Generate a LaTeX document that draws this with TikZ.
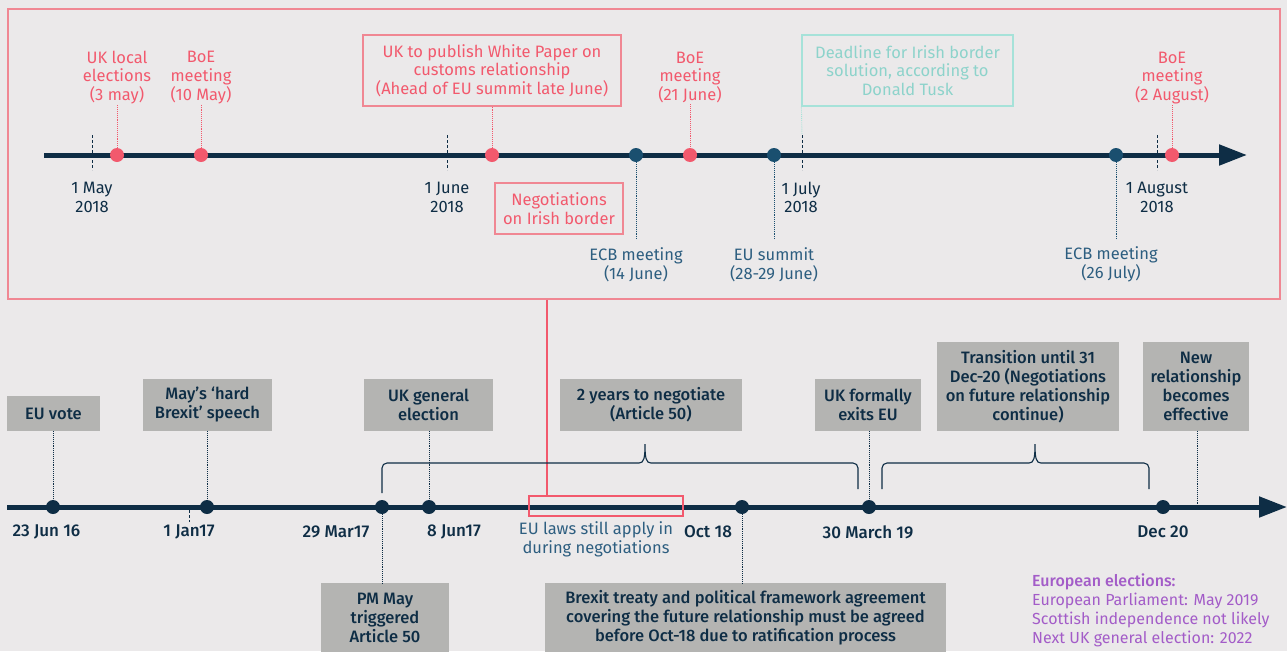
\documentclass[tikz,border=0pt]{standalone}
\usepackage{fontspec}
\setmainfont{Fira Sans}
\newfontfamily\fmed{Fira Sans Medium}
\usetikzlibrary{arrows.meta}
\definecolor{bgc}{HTML}{EBE9EA}
\definecolor{navy}{HTML}{0E2D45}
\definecolor{bluec}{HTML}{1A4F6F}
\definecolor{bluet}{HTML}{2D5E80}
\definecolor{pinkc}{HTML}{F2596D}
\definecolor{pinkb}{HTML}{F08793}
\definecolor{tealc}{HTML}{A6E2D9}
\definecolor{grayb}{HTML}{B4B4B2}
\definecolor{purp}{HTML}{A35CC8}
\tikzset{
  fs/.style={font=\fontsize{16.5}{18.6}\selectfont},
  rdot/.style={circle,fill=pinkc,minimum size=14pt,inner sep=0},
  bdot/.style={circle,fill=bluec,minimum size=14pt,inner sep=0},
  ndot/.style={circle,fill=navy,minimum size=14pt,inner sep=0},
  rlab/.style={fs,text=pinkc,align=center,inner sep=1pt},
  blab/.style={fs,text=bluet,align=center,inner sep=1pt},
  dlab/.style={fs,text=navy,align=center,inner sep=1pt},
  ndate/.style={font=\fmed\fontsize{17}{18.6}\selectfont,text=navy,align=center,inner sep=1pt},
  rbox/.style={fs,draw=pinkb,line width=1.2pt,text=pinkc,align=center,inner sep=0},
  tbox/.style={fs,draw=tealc,line width=1.2pt,text=tealc!85!teal,align=center,inner sep=0},
  gbox/.style={font=\fmed\fontsize{16.5}{19}\selectfont,fill=grayb,text=navy,align=center,inner sep=0},
  rdots/.style={pinkc,densely dotted,line width=0.9pt},
  bdots/.style={bluec,densely dotted,line width=0.9pt},
  ndots/.style={navy,densely dotted,line width=0.9pt},
  tdots/.style={tealc,densely dotted,line width=0.9pt},
  tickl/.style={navy,densely dashed,line width=0.8pt},
  tline/.style={navy,line width=5pt,-{Triangle[length=28pt,width=20pt]}},
  brace/.style={navy,line width=1.1pt},
}
\begin{document}
\begin{tikzpicture}[x=1pt,y=-1pt]
\fill[bgc] (0,0) rectangle (1287,651);
\useasboundingbox (0,0) rectangle (1287,651);

% ---------- top panel ----------
\node[draw=pinkb,line width=1.3pt,minimum width=1272pt,minimum height=290pt,inner sep=0] (panel) at (644,154) {};

\coordinate (ts) at (44,155);
\coordinate (te) at (1247,155);
\draw[tline] (ts) -- (te);

% ticks
\coordinate (tk1a) at (92,135); \coordinate (tk1b) at (92,170);
\coordinate (tk2a) at (447,135); \coordinate (tk2b) at (447,170);
\coordinate (tk3a) at (802,135); \coordinate (tk3b) at (802,170);
\coordinate (tk4a) at (1157,135); \coordinate (tk4b) at (1157,170);
\draw[tickl] (tk1a) -- (tk1b);
\draw[tickl] (tk2a) -- (tk2b);
\draw[tickl] (tk3a) -- (tk3b);
\draw[tickl] (tk4a) -- (tk4b);

% dots
\node[rdot] (r1) at (117,155) {};
\node[rdot] (r2) at (201,155) {};
\node[rdot] (r3) at (492,155) {};
\node[rdot] (r4) at (690,155) {};
\node[rdot] (r5) at (1172,155) {};
\node[bdot] (b1) at (636,155) {};
\node[bdot] (b2) at (774,155) {};
\node[bdot] (b3) at (1116,155) {};

% pink labels
\node[rlab] (lr1) at (117,77.5) {UK local\\elections\\(3 may)};
\node[rlab] (lr2) at (201,77.5) {BoE\\meeting\\(10 May)};
\node[rlab] (lr4) at (690,77.5) {BoE\\meeting\\(21 June)};
\node[rlab] (lr5) at (1172,78) {BoE\\meeting\\(2 August)};
\node[rbox,minimum width=258pt,minimum height=71pt] (wp) at (492,70.5) {UK to publish White Paper on\\customs relationship\\(Ahead of EU summit late June)};
\node[tbox,minimum width=211pt,minimum height=71pt] (dl) at (907.5,70.5) {Deadline for Irish border\\solution, according to\\Donald Tusk};
\node[rbox,minimum width=128pt,minimum height=51pt] (neg) at (559,208.5) {Negotiations\\on Irish border};

\draw[rdots] (lr1.south) -- (r1.north);
\draw[rdots] (lr2.south) -- (r2.north);
\draw[rdots] (lr4.south) -- (r4.north);
\draw[rdots] (lr5.south) -- (r5.north);
\draw[rdots] (wp.south) -- (r3.north);
\draw[tdots] (dl.south west) -- (tk3a);

% blue labels
\node[blab] (lb1) at (636,264.5) {ECB meeting\\(14 June)};
\node[blab] (lb2) at (774,264.5) {EU summit\\(28-29 June)};
\node[blab] (lb3) at (1111,264.5) {ECB meeting\\(26 July)};
\coordinate (eb1) at (636,240);
\coordinate (eb2) at (774,240);
\coordinate (eb3) at (1116,240);
\draw[bdots] (b1.south) -- (eb1);
\draw[bdots] (b2.south) -- (eb2);
\draw[bdots] (b3.south) -- (eb3);

% date labels
\node[dlab] at (92,197.5) {1 May\\2018};
\node[dlab] at (447,197.5) {1 June\\2018};
\node[dlab] at (801,197.5) {1 July\\2018};
\node[dlab] at (1157,197.5) {1 August\\2018};

% ---------- bottom timeline ----------
\coordinate (bs) at (7,507);
\coordinate (be) at (1287,507);
\draw[tline] (bs) -- (be);

\node[draw=pinkc,line width=1.2pt,minimum width=154pt,minimum height=20pt,inner sep=0] (lawbox) at (606,506) {};
\coordinate (lx) at (547,0);
\draw[pinkc,line width=1.2pt] (panel.south -| lx) -- (lawbox.north -| lx);

\coordinate (jt1) at (189,510); \coordinate (jt2) at (189,522);
\draw[tickl] (jt1) -- (jt2);

\node[ndot] (n1) at (53,507) {};
\node[ndot] (n2) at (207,507) {};
\node[ndot] (n3) at (382,507) {};
\node[ndot] (n4) at (429,507) {};
\node[ndot] (n5) at (742,507) {};
\node[ndot] (n6) at (869,507) {};
\node[ndot] (n7) at (1163,507) {};
\coordinate (nr) at (1197,504);

% dates
\node[ndate] at (46.5,532) {23 Jun 16};
\node[ndate] at (189,532) {1 Jan17};
\node[ndate] at (336,532) {29 Mar17};
\node[ndate] at (454,532) {8 Jun17};
\node[ndate] at (708,532) {Oct 18};
\node[ndate] at (868,532) {30 March 19};
\node[ndate] at (1163,532) {Dec 20};
\node[blab] at (596,539.5) {EU laws still apply in\\during negotiations};

% gray boxes above
\node[gbox,minimum width=93pt,minimum height=35pt] (g1) at (53.5,413.5) {EU vote};
\node[gbox,minimum width=129pt,minimum height=52pt] (g2) at (207.5,405) {May’s ‘hard\\Brexit’ speech};
\node[gbox,minimum width=129pt,minimum height=52pt] (g3) at (428.5,405) {UK general\\election};
\node[gbox,minimum width=182pt,minimum height=52pt] (g4) at (651,405) {2 years to negotiate\\(Article 50)};
\node[gbox,minimum width=106pt,minimum height=52pt] (g5) at (868,405) {UK formally\\exits EU};
\node[gbox,minimum width=182pt,minimum height=89pt] (g6) at (1028,386.5) {Transition until 31\\Dec-20 (Negotiations\\on future relationship\\continue)};
\node[gbox,minimum width=106pt,minimum height=89pt] (g7) at (1196,386.5) {New\\relationship\\becomes\\effective};

% gray boxes below
\node[gbox,minimum width=128pt,minimum height=70pt] (g8) at (385,618) {PM May\\triggered\\Article 50};
\node[gbox,minimum width=401pt,minimum height=70pt] (g9) at (745.5,618) {Brexit treaty and political framework agreement\\covering the future relationship must be agreed\\before Oct-18 due to ratification process};

\draw[ndots] (g1.south -| n1) -- (n1.north);
\draw[ndots] (g2.south -| n2) -- (n2.north);
\draw[ndots] (g3.south -| n4) -- (n4.north);
\draw[ndots] (g5.south -| n6) -- (n6.north);
\draw[ndots] (g7.south -| nr) -- (nr);
\draw[ndots] (n3.south) -- (g8.north -| n3);
\draw[ndots] (n5.south) -- (g9.north -| n5);

% braces
\draw[brace] (382,493) [rounded corners=5pt]-- (382,463) [sharp corners]-- (639,463)
  .. controls (644,463) and (645,458) .. (645,444)
  .. controls (645,458) and (646,463) .. (651,463) [rounded corners=5pt]-- (858,463) -- (858,489);
\draw[brace] (882,489) [rounded corners=5pt]-- (882,463) [sharp corners]-- (1029,463)
  .. controls (1034,463) and (1035,458) .. (1035,444)
  .. controls (1035,458) and (1036,463) .. (1041,463) [rounded corners=5pt]-- (1149,463) -- (1149,489);

% legend
\node[anchor=north west,align=left,inner sep=0,text=purp,font=\fontsize{16}{18.8}\selectfont] (leg) at (1032,574) {{\fmed European elections:}\\European Parliament: May 2019\\Scottish independence not likely\\Next UK general election: 2022};
\end{tikzpicture}
\end{document}
